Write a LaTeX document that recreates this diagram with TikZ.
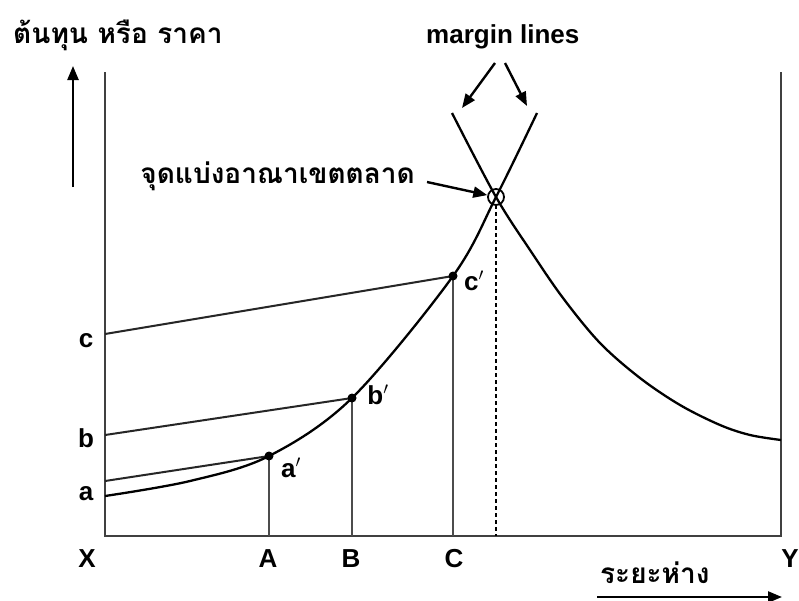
\documentclass[tikz,border=0pt]{standalone}
\usepackage{fontspec}
\setmainfont{Liberation Sans}
\newfontfamily\thaifont[Script=Thai]{Loma}
\usetikzlibrary{arrows.meta}
\tikzset{
  axisline/.style={line width=2pt, black!75},
  curve/.style={line width=2.3pt, black},
  guide/.style={line width=2pt, black!85},
  dropline/.style={line width=1.7pt, black!70},
  dashline/.style={line width=2pt, black, dash pattern=on 4pt off 3pt},
  pointer/.style={line width=2.4pt, black, -{Triangle[length=14pt,width=11pt]}},
  dotmark/.style={circle, fill=black, inner sep=0pt, minimum size=9pt},
  lbl/.style={font=\bfseries\fontsize{26}{30}\selectfont, inner sep=0pt},
  thlbl/.style={font=\thaifont\bfseries\fontsize{28}{32}\selectfont, inner sep=0pt}
}
\begin{document}
\begin{tikzpicture}[x=1pt,y=-1pt]
\useasboundingbox[fill=white] (0,0) rectangle (799,600);
% frame / axes
\coordinate (O) at (105,536);
\coordinate (Otop) at (105,72);
\coordinate (E) at (781,536);
\coordinate (Etop) at (781,72);
\draw[axisline] (Otop) -- (O) -- (E) -- (Etop);
% points
\coordinate (a0) at (105,496);
\coordinate (a1) at (105,481);
\coordinate (b0) at (105,435);
\coordinate (c0) at (105,334);
\coordinate (ap) at (269,456);
\coordinate (bp) at (352,398);
\coordinate (cp) at (453,276);
\coordinate (M) at (496,197);
\coordinate (Lt) at (537,113);
\coordinate (Rt) at (452,113);
\coordinate (Ye) at (781,440);
\coordinate (Ab) at (269,536);
\coordinate (Bb) at (352,536);
\coordinate (Cb) at (453,536);
\coordinate (Mb) at (496,536);
% drop lines
\draw[dropline] (ap) -- (Ab);
\draw[dropline] (bp) -- (Bb);
\draw[dropline] (cp) -- (Cb);
\draw[dashline] (M) ++(0,8) -- (Mb);
% price lines
\draw[guide] (a1) -- (ap);
\draw[guide] (b0) -- (bp);
\draw[guide] (c0) -- (cp);
% curves
\draw[curve] plot[smooth, tension=0.55] coordinates {(a0) (190,481) (ap) (bp) (cp) (M) (Lt)};
\draw[curve] plot[smooth, tension=0.55] coordinates {(Rt) (M) (530,250) (563,298) (600,343) (640,378) (680,405) (720,425) (750,435) (Ye)};
% dots and circle
\node[dotmark] (dA) at (ap) {};
\node[dotmark] (dB) at (bp) {};
\node[dotmark] (dC) at (cp) {};
\node[circle, draw, line width=1.8pt, minimum size=16pt, inner sep=0pt] (mk) at (M) {};
% axis labels
\node[lbl, anchor=base] (lX) at (87,567) {X};
\node[lbl, anchor=base] (lA) at (268,567) {A};
\node[lbl, anchor=base] (lB) at (351,567) {B};
\node[lbl, anchor=base] (lC) at (454,567) {C};
\node[lbl, anchor=base] (lY) at (790,567) {Y};
\node[lbl, anchor=base] (la) at (86,500) {a};
\node[lbl, anchor=base] (lb) at (86,447) {b};
\node[lbl, anchor=base] (lc) at (86,347) {c};
\node[lbl, anchor=base] (lap) at (291,477) {a$'$};
\node[lbl, anchor=base] (lbp) at (378,404) {b$'$};
\node[lbl, anchor=base] (lcp) at (474,290) {c$'$};
% texts
\node[thlbl, anchor=base west] (title) at (13,43) {ต้นทุน หรือ ราคา};
\node[lbl, anchor=base west] (ml) at (426,43) {margin lines};
\node[thlbl, anchor=base east] (mb) at (415,183) {จุดแบ่งอาณาเขตตลาด};
\node[thlbl, anchor=base west] (dist) at (600,583) {ระยะห่าง};
% arrows
\coordinate (up0) at (73,187);
\coordinate (up1) at (73,66);
\draw[pointer] (up0) -- (up1);
\coordinate (m1s) at (495,63);
\coordinate (m1e) at (462,108);
\coordinate (m2s) at (505,63);
\coordinate (m2e) at (527,106);
\draw[pointer] (m1s) -- (m1e);
\draw[pointer] (m2s) -- (m2e);
\coordinate (ps) at (427,182);
\draw[pointer] (ps) -- (mk);
\coordinate (ds) at (597,597);
\coordinate (de) at (782,597);
\draw[pointer] (ds) -- (de);
\end{tikzpicture}
\end{document}
